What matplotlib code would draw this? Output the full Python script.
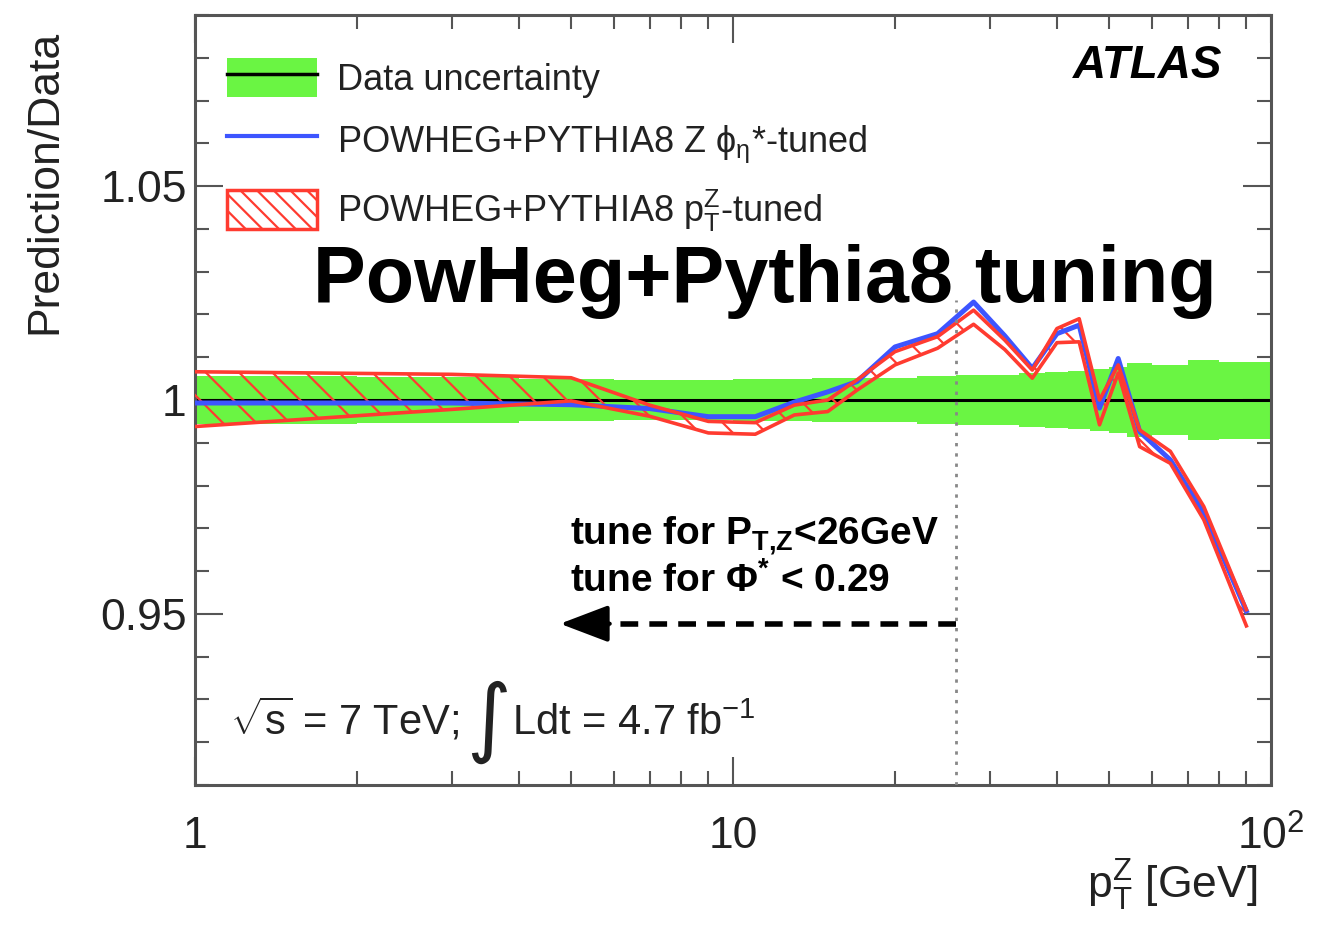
import numpy as np
import matplotlib
matplotlib.use("Agg")
import matplotlib.pyplot as plt
from matplotlib.patches import Patch
from matplotlib.lines import Line2D
from matplotlib.ticker import FixedLocator, FixedFormatter, LogLocator, NullFormatter, MultipleLocator

plt.rcParams['font.family'] = ['Liberation Sans', 'DejaVu Sans']
plt.rcParams['mathtext.fontset'] = 'custom'
plt.rcParams['mathtext.rm'] = 'Liberation Sans'
plt.rcParams['mathtext.it'] = 'Liberation Sans:italic'
plt.rcParams['mathtext.bf'] = 'Liberation Sans:bold'
plt.rcParams['hatch.linewidth'] = 1.6

# ---------------- data ----------------
# data-uncertainty bins (pT^Z bin edges, GeV) and half-width of the relative uncertainty
bin_edges = [0.5, 2, 4, 6, 8, 10, 12, 14, 16, 18, 22, 26, 30, 34, 38, 42, 46, 50, 54, 60, 70, 80, 100]
data_unc = [0.0055, 0.0053, 0.0048, 0.0047, 0.0047, 0.0050, 0.0050, 0.0051, 0.0051, 0.0052,
            0.0056, 0.0058, 0.0059, 0.0064, 0.0066, 0.0068, 0.0073, 0.0076, 0.0086, 0.0082,
            0.0093, 0.0090]

# prediction points at bin centres
pt_centres = [1, 3, 5, 7, 9, 11, 13, 15, 17, 20, 24, 28, 32, 36, 40, 44, 48, 52, 57, 65, 75, 90]
phistar_tuned = [0.9993, 0.9993, 0.9989, 0.9980, 0.9961, 0.9961, 0.9995, 1.0019, 1.0043, 1.0124,
                 1.0155, 1.0229, 1.0150, 1.0074, 1.0155, 1.0175, 0.9981, 1.0097, 0.9926, 0.9860,
                 0.9736, 0.9507]
pt_tuned_lo = [0.9938, 0.9978, 0.9998, 0.9962, 0.9923, 0.9920, 0.9965, 0.9973, 1.0023, 1.0082,
               1.0121, 1.0177, 1.0118, 1.0051, 1.0134, 1.0136, 0.9942, 1.0063, 0.9891, 0.9852,
               0.9720, 0.9472]
pt_tuned_hi = [1.0066, 1.0060, 1.0052, 0.9988, 0.9950, 0.9947, 0.9988, 1.0000, 1.0047, 1.0113,
               1.0148, 1.0210, 1.0140, 1.0070, 1.0167, 1.0190, 1.0000, 1.0082, 0.9930, 0.9880,
               0.9751, 0.9510]

tune_cut = 26.0
arrow_end = 4.77
arrow_y = 0.9477

GREEN = '#6af543'
BLUE = '#3d55ff'
RED = '#ff3b30'
AXC = '#555555'
TXT = '#222222'

fig = plt.figure(figsize=(13.31, 9.27), dpi=100)
ax = fig.add_axes([195/1331, 1-785/927, 1076/1331, 770/927])

# data uncertainty band
edges = np.array(bin_edges)
unc = np.array(data_unc)
ax.fill_between(edges, np.r_[1-unc, 1-unc[-1]], np.r_[1+unc, 1+unc[-1]], step='post',
                facecolor=GREEN, edgecolor='none', lw=0, zorder=1)
ax.axhline(1.0, color='black', lw=2.2, zorder=2)

# pT-tuned hatched band
x = np.array(pt_centres, dtype=float)
ax.fill_between(x, pt_tuned_lo, pt_tuned_hi, facecolor='none', edgecolor=RED,
                hatch='\\', lw=0, zorder=3)
ax.plot(x, phistar_tuned, color=BLUE, lw=3.6, zorder=4)
ax.plot(x, pt_tuned_lo, color=RED, lw=2.6, zorder=5)
ax.plot(x, pt_tuned_hi, color=RED, lw=2.6, zorder=5)

# vertical dotted line at 26 GeV
ax.plot([tune_cut, tune_cut], [0.91, 1.0233], color='#888888', lw=2,
        ls=(0, (1.2, 2.5)), zorder=6)

# dashed arrow
ax.plot([tune_cut, 5.5], [arrow_y, arrow_y], color='black', lw=4, ls=(0, (3.2, 2.0)), zorder=7)
ax.annotate('', xy=(arrow_end, arrow_y), xytext=(5.9, arrow_y),
            arrowprops=dict(arrowstyle='-|>,head_length=1.0,head_width=0.38', color='black',
                            lw=3, mutation_scale=30, shrinkA=0, shrinkB=0), zorder=7)

ax.set_xscale('log')
ax.set_xlim(1, 100)
ax.set_ylim(0.91, 1.09)

ax.xaxis.set_major_locator(FixedLocator([1, 10, 100]))
ax.xaxis.set_major_formatter(FixedFormatter(['1', '10', r'$10^2$']))
ax.xaxis.set_minor_locator(LogLocator(base=10, subs=np.arange(2, 10)))
ax.xaxis.set_minor_formatter(NullFormatter())
ax.yaxis.set_major_locator(FixedLocator([0.95, 1.0, 1.05]))
ax.yaxis.set_major_formatter(FixedFormatter(['0.95', '1', '1.05']))
ax.yaxis.set_minor_locator(MultipleLocator(0.01))

ax.tick_params(which='both', direction='in', top=True, right=True, color=AXC, width=1.5,
               labelsize=32, labelcolor=TXT)
ax.tick_params(which='major', length=20)
ax.tick_params(which='minor', length=10)
ax.tick_params(axis='x', pad=22)
ax.tick_params(axis='y', pad=6)
for s in ax.spines.values():
    s.set_color(AXC)
    s.set_linewidth(2.2)

# legend
h_data = (Patch(facecolor=GREEN, edgecolor='none'), Line2D([], [], color='black', lw=2.5))
h_blue = Line2D([], [], color=BLUE, lw=3)
h_red = Patch(facecolor='none', edgecolor=RED, hatch='\\\\', lw=2.5)
leg = ax.legend([h_data, h_blue, h_red],
                ['Data uncertainty', r'POWHEG+PYTHIA8 Z $\mathrm{\phi_{\eta}}$*-tuned',
                 r'POWHEG+PYTHIA8 $\mathrm{p_{T}^{Z}}$-tuned'],
                loc='upper left', bbox_to_anchor=(32/1076, 1-43/770), frameon=False,
                fontsize=26, handlelength=2.5, handleheight=1.3, labelspacing=0.62,
                handletextpad=0.55, borderpad=0, borderaxespad=0)
for t in leg.get_texts():
    t.set_color(TXT)

# texts
fig.text(1222/1331, 1-66/927, 'ATLAS', fontsize=33, fontweight='bold', fontstyle='italic',
         ha='right', va='center')
fig.text(313/1331, 1-302/927, 'PowHeg+Pythia8 tuning', fontsize=57, fontweight='bold',
         ha='left', va='baseline')
fig.text(570/1331, 1-545/927, r'tune for P$_{\mathbf{T{,}Z}}$<26GeV', fontsize=28,
         fontweight='bold', ha='left', va='baseline')
fig.text(570/1331, 1-592/927, r'tune for Φ$^{\mathbf{*}}$ < 0.29', fontsize=28,
         fontweight='bold', ha='left', va='baseline')

fig.text(230/1331, 1-735/927, r'$\sqrt{\mathrm{s}}$ = 7 TeV;', fontsize=30, ha='left',
         va='baseline', color=TXT)
fig.text(489/1331, 1-722/927, '∫', fontsize=62, family=['DejaVu Sans'], ha='center',
         va='center', color=TXT)
fig.text(512/1331, 1-735/927, r'Ldt = 4.7 fb$^{-1}$', fontsize=30, ha='left', va='baseline',
         color=TXT)

fig.text(45/1331, 1-30/927, 'Prediction/Data', fontsize=32, rotation=90, ha='center',
         va='top', color=TXT)
fig.text(1257/1331, 1-885/927, r'p$_{\mathrm{T}}^{\mathrm{Z}}$ [GeV]', fontsize=32, ha='right',
         va='center', color=TXT)

fig.savefig('out.png', dpi=100)
